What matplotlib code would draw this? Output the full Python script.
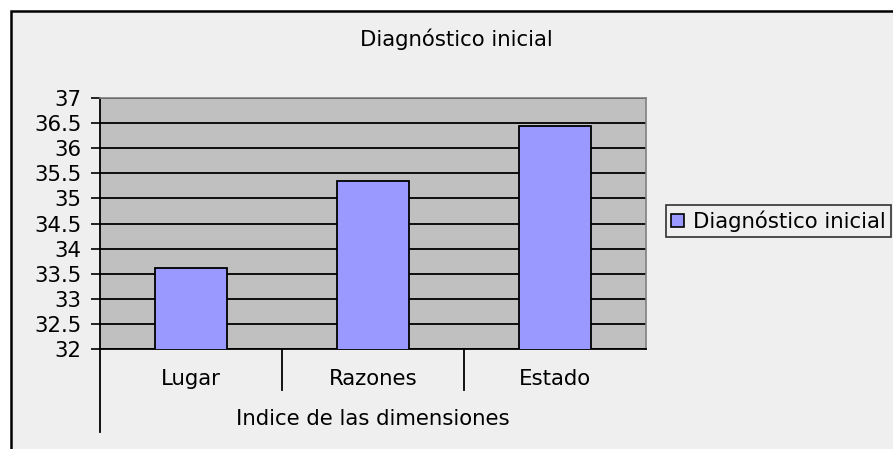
import matplotlib
matplotlib.use("Agg")
import matplotlib.pyplot as plt
from matplotlib.patches import Rectangle, Patch
from matplotlib.lines import Line2D

categories = ["Lugar", "Razones", "Estado"]
values = [33.62, 35.35, 36.45]
series_name = "Diagnóstico inicial"
title = "Diagnóstico inicial"
xlabel = "Indice de las dimensiones"
yticks = [32, 32.5, 33, 33.5, 34, 34.5, 35, 35.5, 36, 36.5, 37]
ytick_labels = ["32", "32.5", "33", "33.5", "34", "34.5", "35", "35.5", "36", "36.5", "37"]

W, H = 893, 449
plt.rcParams['font.family'] = ['DejaVu Sans']
FS = 15.3

fig = plt.figure(figsize=(W / 100, H / 100), dpi=100, facecolor='white')

# chart area background and frame
frame = Rectangle((11 / W, -0.1), 1.1, 1 - 11.5 / H + 0.1, transform=fig.transFigure,
                  facecolor='#efefef', edgecolor='black', linewidth=1.8, zorder=-10)
fig.add_artist(frame)

L, R, T, B = 100, 646, 98, 349
ax = fig.add_axes([L / W, 1 - B / H, (R - L) / W, (B - T) / H])
ax.set_zorder(1)
ax.set_facecolor('#c0c0c0')

x = list(range(len(categories)))
ax.bar(x, values, width=0.4, bottom=0, color='#9999ff', edgecolor='black',
       linewidth=1.3, zorder=3)
ax.set_xlim(-0.5, len(categories) - 0.5)
ax.set_ylim(32, 37)
ax.set_yticks(yticks)
ax.set_yticklabels(ytick_labels, fontsize=FS)
ax.tick_params(axis='y', direction='out', length=6.5, width=1.2, pad=7, color='black')
ax.set_xticks([])
ax.yaxis.grid(True, color='black', linewidth=1.3, zorder=1)
ax.set_axisbelow(True)

for s in ['top', 'right']:
    ax.spines[s].set_color('#808080')
    ax.spines[s].set_linewidth(1.2)
for s in ['left', 'bottom']:
    ax.spines[s].set_color('black')
    ax.spines[s].set_linewidth(1.3)

ph = B - T
tr = ax.get_xaxis_transform()
# category labels
for i, c in enumerate(categories):
    ax.text(i, (B - 379) / ph, c, transform=tr, ha='center', va='center', fontsize=FS)
# category separators
for k in range(1, len(categories)):
    ax.add_line(Line2D([k - 0.5, k - 0.5], [0, (B - 390) / ph], transform=tr,
                       color='black', linewidth=1.3, clip_on=False))
ax.add_line(Line2D([-0.5, -0.5], [0, (B - 432) / ph], transform=tr,
                   color='black', linewidth=1.3, clip_on=False))
ax.text(0.5, (B - 419) / ph, xlabel, transform=ax.transAxes, ha='center', va='center',
        fontsize=FS)

fig.text(456 / W, 1 - 39 / H, title, ha='center', va='center', fontsize=FS)

handle = Patch(facecolor='#9999ff', edgecolor='black', linewidth=1.2)
leg = fig.legend([handle], [series_name], loc='upper left',
                 bbox_to_anchor=(666 / W, 1 - 205 / H), fontsize=FS,
                 frameon=True, fancybox=False, shadow=False,
                 handlelength=0.6, handleheight=0.55, handletextpad=0.4,
                 borderpad=0.25, borderaxespad=0)
leg.get_frame().set_edgecolor('black')
leg.get_frame().set_facecolor('#efefef')
leg.get_frame().set_linewidth(1.2)

fig.savefig('out.png', dpi=100, facecolor='white')
